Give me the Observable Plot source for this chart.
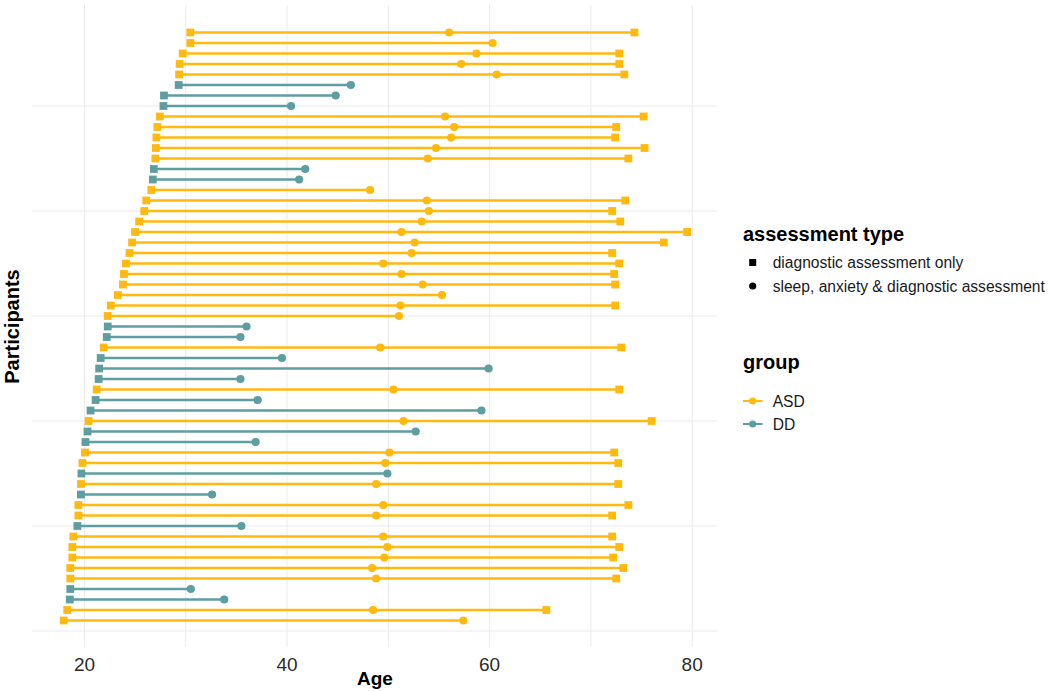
<!DOCTYPE html>
<html>
<head>
<meta charset="utf-8">
<script src="https://cdn.jsdelivr.net/npm/d3@7"></script>
<script src="https://cdn.jsdelivr.net/npm/@observablehq/plot@0.6"></script>
<style>
  html, body { margin: 0; padding: 0; background: #fff; }
  #wrap { position: relative; width: 1050px; height: 691px; overflow: hidden; font-family: "Liberation Sans", Arial, sans-serif; }
  #legend { position: absolute; left: 0; top: 0; }
</style>
</head>
<body>
<div id="wrap"></div>
<script>
// Participants listed from top row to bottom row
const groups = [
  "ASD","ASD","ASD","ASD","ASD","DD","DD","DD","ASD","ASD",
  "ASD","ASD","ASD","DD","DD","ASD","ASD","ASD","ASD","ASD",
  "ASD","ASD","ASD","ASD","ASD","ASD","ASD","ASD","DD","DD",
  "ASD","DD","DD","DD","ASD","DD","DD","ASD","DD","DD",
  "ASD","ASD","DD","ASD","DD","ASD","ASD","DD","ASD","ASD",
  "ASD","ASD","ASD","DD","DD","ASD","ASD"
];
// age at first diagnostic assessment (square)
const firstAge = [
  30.45,30.45,29.7,29.4,29.35,29.3,27.85,27.8,27.45,27.2,
  27.1,27.05,27.0,26.85,26.75,26.6,26.1,25.9,25.4,25.0,
  24.7,24.45,24.1,23.9,23.8,23.3,22.6,22.3,22.3,22.2,
  21.9,21.6,21.45,21.4,21.2,21.1,20.6,20.4,20.3,20.1,
  20.05,19.8,19.7,19.65,19.65,19.4,19.4,19.3,18.9,18.8,
  18.8,18.6,18.6,18.6,18.55,18.3,17.95
];
// age at sleep, anxiety & diagnostic assessment (circle)
const secondAge = [
  56.0,60.3,58.7,57.2,60.7,46.3,44.8,40.4,55.6,56.5,
  56.2,54.7,53.9,41.8,41.2,48.2,53.8,54.0,53.3,51.3,
  52.6,52.3,49.5,51.3,53.4,55.3,51.2,51.05,36.0,35.4,
  49.2,39.5,59.9,35.4,50.5,37.1,59.2,51.5,52.7,36.9,
  50.1,49.7,49.9,48.8,32.6,49.5,48.8,35.5,49.5,49.9,
  49.6,48.4,48.8,30.5,33.8,48.5,57.4
];
// age at later diagnostic assessment (square), null if none
const thirdAge = [
  74.3,null,72.8,72.8,73.3,null,null,null,75.2,72.5,
  72.4,75.3,73.7,null,null,null,73.4,72.1,72.9,79.5,
  77.2,72.1,72.8,72.3,72.4,null,72.4,null,null,null,
  73.0,null,null,null,72.8,null,null,76.0,null,null,
  72.3,72.7,null,72.7,null,73.7,72.1,null,72.1,72.8,
  72.2,73.2,72.5,null,null,65.6,null
];
const groupNames = ["ASD", "DD"];
const groupColors = ["#FFB90F", "#5F9EA0"];
const xTicks = [20, 40, 60, 80];
const xGrid = [20, 30, 40, 50, 60, 70, 80];
const yGrid = [0, 10, 20, 30, 40, 50];
const typeLabels = ["diagnostic assessment only", "sleep, anxiety & diagnostic assessment"];

const n = groups.length;
const rows = groups.map((g, i) => ({
  id: n - i,
  group: g,
  start: firstAge[i],
  end: thirdAge[i] != null ? thirdAge[i] : secondAge[i]
}));
const squares = [];
const circles = [];
groups.forEach((g, i) => {
  squares.push({id: n - i, group: g, age: firstAge[i]});
  if (thirdAge[i] != null) squares.push({id: n - i, group: g, age: thirdAge[i]});
  circles.push({id: n - i, group: g, age: secondAge[i]});
});

const plot = Plot.plot({
  width: 1050,
  height: 691,
  marginLeft: 32,
  marginRight: 333,
  marginTop: 5,
  marginBottom: 44,
  style: {fontFamily: "Liberation Sans, Arial, sans-serif", fontSize: "19px", color: "#2b2b2b", background: "#fff"},
  x: {domain: [14.87, 82.5], ticks: xTicks, tickSize: 0, tickPadding: 10, label: null},
  y: {domain: [-1.57, 59.57], axis: null},
  color: {domain: groupNames, range: groupColors},
  marks: [
    Plot.gridX(xGrid, {stroke: "#EBEBEB", strokeOpacity: 1, strokeWidth: 1}),
    Plot.gridY(yGrid, {stroke: "#EBEBEB", strokeOpacity: 1, strokeWidth: 1}),
    Plot.ruleY(rows, {y: "id", x1: "start", x2: "end", stroke: "group", strokeWidth: 2.4}),
    Plot.dot(squares, {x: "age", y: "id", fill: "group", symbol: "square", r: 4.4}),
    Plot.dot(circles, {x: "age", y: "id", fill: "group", symbol: "circle", r: 4.1}),
    Plot.text(["Age"], {frameAnchor: "bottom", text: d => d, dy: 31, fontWeight: "bold", fontSize: 19, fill: "#000", lineAnchor: "middle"}),
    Plot.text(["Participants"], {frameAnchor: "left", text: d => d, dx: -20, rotate: -90, fontWeight: "bold", fontSize: 20, fill: "#000", textAnchor: "middle", lineAnchor: "middle"})
  ]
});
const wrap = document.getElementById("wrap");
wrap.appendChild(plot);

// Legend (right side)
const leg = d3.select(wrap).append("svg")
  .attr("id", "legend")
  .attr("width", 1050).attr("height", 691)
  .style("font-family", "Liberation Sans, Arial, sans-serif");

leg.append("text").attr("x", 743).attr("y", 241)
  .attr("font-size", 20).attr("font-weight", "bold").attr("fill", "#000")
  .text("assessment type");
leg.append("rect").attr("x", 749.2).attr("y", 259).attr("width", 7).attr("height", 7).attr("fill", "#000");
leg.append("text").attr("x", 772.7).attr("y", 268)
  .attr("font-size", 15.6).attr("fill", "#1a1a1a").text(typeLabels[0]);
leg.append("circle").attr("cx", 752.7).attr("cy", 286).attr("r", 3.6).attr("fill", "#000");
leg.append("text").attr("x", 772.7).attr("y", 291.5)
  .attr("font-size", 15.6).attr("fill", "#1a1a1a").text(typeLabels[1]);

leg.append("text").attr("x", 743).attr("y", 369)
  .attr("font-size", 20).attr("font-weight", "bold").attr("fill", "#000")
  .text("group");
const keyY = [401, 424];
groupNames.forEach((g, i) => {
  leg.append("line").attr("x1", 743).attr("x2", 762.5).attr("y1", keyY[i]).attr("y2", keyY[i])
    .attr("stroke", groupColors[i]).attr("stroke-width", 2);
  leg.append("circle").attr("cx", 752.7).attr("cy", keyY[i]).attr("r", 3.6).attr("fill", groupColors[i]);
  leg.append("text").attr("x", 772.7).attr("y", keyY[i] + 5.8)
    .attr("font-size", 15.6).attr("fill", "#1a1a1a").text(g);
});
</script>
</body>
</html>
